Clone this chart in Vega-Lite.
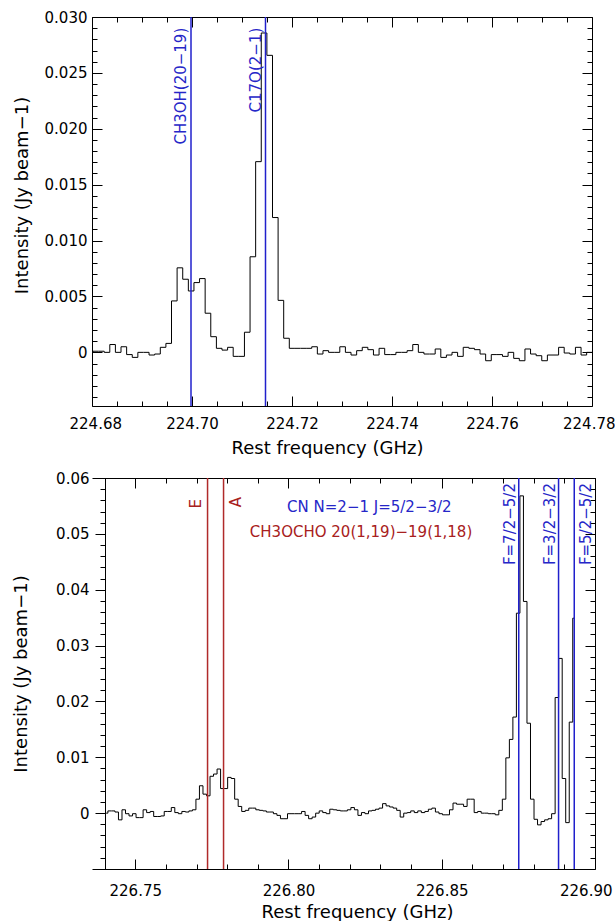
{
  "$schema": "https://vega.github.io/schema/vega-lite/v6.json",
  "padding": {"left": 12, "top": 10, "right": 0, "bottom": 0},
  "columns": 1,
  "align": "none",
  "spacing": 14,
  "config": {
    "view": {"stroke": null},
    "font": "DejaVu Sans",
    "axis": {"grid": false, "domainColor": "black", "tickColor": "black", "labelColor": "black", "titleColor": "black", "labelFont": "DejaVu Sans", "titleFont": "DejaVu Sans", "labelFontSize": 15, "titleFontSize": 18, "titleFontWeight": "normal", "domainWidth": 1, "tickWidth": 1, "labelOverlap": false, "labelFlush": false}
  },
  "datasets": {
    "spec1": [
      {"f":224.67963,"v":0},{"f":224.68075,"v":0.0001},{"f":224.68188,"v":0.0001},{"f":224.683,"v":0},{"f":224.68412,"v":0.0007},{"f":224.68524,"v":0},{"f":224.68636,"v":0.0005},{"f":224.68749,"v":-0.0002},{"f":224.68861,"v":-0.00045},{"f":224.68973,"v":0},{"f":224.69085,"v":0},{"f":224.69197,"v":-0.00024},{"f":224.6931,"v":-0.00015},{"f":224.69422,"v":0.00045},{"f":224.69534,"v":0.0008},
      {"f":224.69646,"v":0.0046},{"f":224.69758,"v":0.00756},{"f":224.69871,"v":0.00654},{"f":224.69983,"v":0.00549},{"f":224.70095,"v":0.00624},{"f":224.70207,"v":0.0066},{"f":224.70319,"v":0.0035},{"f":224.70432,"v":0.0014},{"f":224.70544,"v":0.00036},{"f":224.70656,"v":0.0002},{"f":224.70768,"v":0.00045},{"f":224.7088,"v":-0.00036},{"f":224.70993,"v":-0.00036},{"f":224.71105,"v":0.0018},{"f":224.71217,"v":0.00855},{"f":224.71329,"v":0.01706},{"f":224.71441,"v":0.02857},{"f":224.71554,"v":0.02657},{"f":224.71666,"v":0.01206},{"f":224.71778,"v":0.00465},{"f":224.7189,"v":0.00126},
      {"f":224.72002,"v":0.00036},{"f":224.72115,"v":0.00036},{"f":224.72227,"v":0.00036},{"f":224.72339,"v":0.00036},{"f":224.72451,"v":0.0005},{"f":224.72563,"v":-0.00015},{"f":224.72676,"v":0.00015},{"f":224.72788,"v":0},{"f":224.729,"v":0},{"f":224.73012,"v":0.0005},{"f":224.73124,"v":0},{"f":224.73237,"v":-0.00024},{"f":224.73349,"v":0.00015},{"f":224.73461,"v":0.00045},{"f":224.73573,"v":0.00024},{"f":224.73685,"v":-0.00024},{"f":224.73798,"v":0.00036},{"f":224.7391,"v":-0.0002},{"f":224.74022,"v":-0.0002},{"f":224.74134,"v":0},{"f":224.74246,"v":0},{"f":224.74359,"v":0.00015},{"f":224.74471,"v":0.0007},{"f":224.74583,"v":0},{"f":224.74695,"v":-0.00015},{"f":224.74807,"v":-0.00015},{"f":224.7492,"v":0.0003},{"f":224.75032,"v":-0.00045},{"f":224.75144,"v":-0.00024},{"f":224.75256,"v":0},{"f":224.75368,"v":-0.00036},{"f":224.75481,"v":0.00045},{"f":224.75593,"v":0.00036},{"f":224.75705,"v":0.00024},{"f":224.75817,"v":-0.00015},{"f":224.75929,"v":-0.00075},{"f":224.76042,"v":-0.0002},{"f":224.76154,"v":-0.0002},{"f":224.76266,"v":-0.00036},{"f":224.76378,"v":0},{"f":224.7649,"v":-0.00054},{"f":224.76603,"v":-0.00075},{"f":224.76715,"v":0.0003},{"f":224.76827,"v":-0.00015},{"f":224.76939,"v":-0.0003},{"f":224.77051,"v":-0.00075},{"f":224.77164,"v":-0.00024},{"f":224.77276,"v":-0.00024},{"f":224.77388,"v":0.00045},{"f":224.775,"v":-0.00006},{"f":224.77612,"v":-0.00015},{"f":224.77725,"v":0.00045},{"f":224.77837,"v":-0.00024},{"f":224.77949,"v":0},{"f":224.78061,"v":0}
    ],
    "lines1": [
      {"f":224.6998,"label":"CH3OH(20−19)","group":"CH3OH"},
      {"f":224.7147,"label":"C17O(2−1)","group":"C17O"}
    ],
    "spec2": [
      {"f":226.7405,"v":0},{"f":226.74165,"v":0.0004},{"f":226.7428,"v":0.0004},{"f":226.74395,"v":0.0002},{"f":226.7451,"v":-0.0012},{"f":226.74625,"v":0.0006},{"f":226.74739,"v":-0.0001},{"f":226.74854,"v":-0.0005},{"f":226.74969,"v":-0.0001},{"f":226.75084,"v":-0.0008},{"f":226.75199,"v":-0.0008},{"f":226.75314,"v":0.0006},{"f":226.75429,"v":0.0001},{"f":226.75544,"v":0.0003},{"f":226.75659,"v":-0.0006},{"f":226.75774,"v":-0.0006},{"f":226.75888,"v":-0.0005},{"f":226.76003,"v":0.0003},{"f":226.76118,"v":0.0003},{"f":226.76233,"v":0.001},{"f":226.76348,"v":0.0001},{"f":226.76463,"v":-0.0001},{"f":226.76578,"v":0.0003},{"f":226.76693,"v":0.0002},{"f":226.76808,"v":0.0004},{"f":226.76923,"v":0.0006},
      {"f":226.77037,"v":0.0025},{"f":226.77152,"v":0.0049},{"f":226.77267,"v":0.0034},{"f":226.77382,"v":0.0031},{"f":226.77497,"v":0.0066},{"f":226.77612,"v":0.007},{"f":226.77727,"v":0.0079},{"f":226.77842,"v":0.0044},{"f":226.77957,"v":0.0044},{"f":226.78072,"v":0.0064},{"f":226.78186,"v":0.0062},{"f":226.78301,"v":0.0025},{"f":226.78416,"v":0.0012},{"f":226.78531,"v":0.0003},{"f":226.78646,"v":0.0005},{"f":226.78761,"v":0.0009},{"f":226.78876,"v":0.0009},{"f":226.78991,"v":0.0006},{"f":226.79106,"v":0.0005},{"f":226.79221,"v":0.0004},{"f":226.79335,"v":0.0002},{"f":226.7945,"v":0.0002},{"f":226.79565,"v":-0.0001},{"f":226.7968,"v":-0.0004},{"f":226.79795,"v":-0.001},{"f":226.7991,"v":-0.001},
      {"f":226.80025,"v":-0.0001},{"f":226.8014,"v":-0.0001},{"f":226.80255,"v":-0.0001},{"f":226.8037,"v":-0.0001},{"f":226.80484,"v":0.0003},{"f":226.80599,"v":-0.0004},{"f":226.80714,"v":-0.001},{"f":226.80829,"v":-0.0007},{"f":226.80944,"v":0},{"f":226.81059,"v":0.0004},{"f":226.81174,"v":0.0001},{"f":226.81289,"v":-0.0001},{"f":226.81404,"v":0.0007},{"f":226.81519,"v":0.0006},{"f":226.81633,"v":0.0005},{"f":226.81748,"v":0.0004},{"f":226.81863,"v":0.0004},{"f":226.81978,"v":0.0006},{"f":226.82093,"v":0.001},{"f":226.82208,"v":0.0006},{"f":226.82323,"v":-0.0004},{"f":226.82438,"v":0.0001},{"f":226.82553,"v":-0.0001},{"f":226.82668,"v":0.0004},{"f":226.82782,"v":0.0005},{"f":226.82897,"v":0.0007},{"f":226.83012,"v":0.0009},{"f":226.83127,"v":0.0017},{"f":226.83242,"v":0.0013},{"f":226.83357,"v":0.0011},{"f":226.83472,"v":0.0009},{"f":226.83587,"v":0.0005},{"f":226.83702,"v":-0.0007},{"f":226.83817,"v":0},{"f":226.83931,"v":0.0001},{"f":226.84046,"v":0.0004},{"f":226.84161,"v":0.0001},{"f":226.84276,"v":0.0004},{"f":226.84391,"v":0.0001},{"f":226.84506,"v":0.0003},{"f":226.84621,"v":0.0007},{"f":226.84736,"v":0.0009},{"f":226.84851,"v":0.0002},{"f":226.84966,"v":-0.0001},
      {"f":226.8508,"v":-0.0003},{"f":226.85195,"v":-0.0003},{"f":226.8531,"v":0.0006},{"f":226.85425,"v":0.0018},{"f":226.8554,"v":0.0016},{"f":226.85655,"v":0.0016},{"f":226.8577,"v":0.0012},{"f":226.85885,"v":0.0025},{"f":226.86,"v":0.0025},{"f":226.86115,"v":0.0001},{"f":226.86229,"v":0.0003},{"f":226.86344,"v":0},{"f":226.86459,"v":0},{"f":226.86574,"v":-0.0001},{"f":226.86689,"v":-0.0001},{"f":226.86804,"v":-0.0003},{"f":226.86919,"v":0.0005},{"f":226.87034,"v":0.0025},{"f":226.87149,"v":0.0099},{"f":226.87264,"v":0.0132},{"f":226.87378,"v":0.0172},{"f":226.87493,"v":0.0358},{"f":226.87608,"v":0.0568},{"f":226.87723,"v":0.0379},{"f":226.87838,"v":0.0161},{"f":226.87953,"v":0.0025},{"f":226.88068,"v":-0.0011},{"f":226.88183,"v":-0.0021},{"f":226.88298,"v":-0.0015},{"f":226.88413,"v":-0.0012},{"f":226.88527,"v":-0.001},{"f":226.88642,"v":-0.0001},{"f":226.88757,"v":0.0207},{"f":226.88872,"v":0.0277},{"f":226.88987,"v":0.0062},{"f":226.89102,"v":-0.0017},{"f":226.89217,"v":0.0163},{"f":226.89332,"v":0.0349}
    ],
    "lines2": [
      {"f":226.77359,"label":"E","group":"CH3OCHO"},
      {"f":226.77881,"label":"A","group":"CH3OCHO"},
      {"f":226.87512,"label":"F=7/2−5/2","group":"CN"},
      {"f":226.88811,"label":"F=3/2−3/2","group":"CN"},
      {"f":226.89323,"label":"F=5/2−5/2","group":"CN"}
    ],
    "titles2": [
      {"label":"CN N=2−1 J=5/2−3/2","group":"CN"},
      {"label":"CH3OCHO 20(1,19)−19(1,18)","group":"CH3OCHO"}
    ]
  },
  "concat": [
    {
      "width": 500,
      "height": 389,
      "resolve": {"axis": {"x": "independent", "y": "independent"}},
      "layer": [
        {
          "data": {"name": "spec1"},
          "mark": {"type": "line", "interpolate": "step", "color": "black", "strokeWidth": 1, "clip": true},
          "encoding": {
            "x": {"field": "f", "type": "quantitative",
              "scale": {"domain": [224.68, 224.78], "nice": false, "zero": false},
              "axis": {"orient": "bottom", "values": [224.68,224.685,224.69,224.695,224.7,224.705,224.71,224.715,224.72,224.725,224.73,224.735,224.74,224.745,224.75,224.755,224.76,224.765,224.77,224.775,224.78],
                "tickSize": -10,
                "tickDash": {"condition": {"test": "round(datum.value*1000) % 20 != 0", "value": [5, 20]}, "value": []},
                "labelExpr": "round(datum.value*1000) % 20 == 0 ? format(datum.value, '.2f') : ''",
                "labelPadding": 20,
                "labelFlush": true,
                "labelFlushOffset": 23,
                "title": "Rest frequency (GHz)", "titlePadding": 8, "titleX": 235}},
            "y": {"field": "v", "type": "quantitative",
              "scale": {"domain": [-0.0048, 0.03], "nice": false, "zero": false},
              "axis": {"orient": "left", "values": [-0.004,-0.003,-0.002,-0.001,0,0.001,0.002,0.003,0.004,0.005,0.006,0.007,0.008,0.009,0.01,0.011,0.012,0.013,0.014,0.015,0.016,0.017,0.018,0.019,0.02,0.021,0.022,0.023,0.024,0.025,0.026,0.027,0.028,0.029,0.03],
                "tickSize": -10,
                "tickDash": {"condition": {"test": "round(datum.value*1000) % 5 != 0", "value": [5, 20]}, "value": []},
                "labelExpr": "round(datum.value*1000) % 5 != 0 ? '' : (round(datum.value*1000) == 0 ? '0' : format(datum.value, '.3f'))",
                "labelPadding": 15,
                "title": "Intensity (Jy beam−1)", "titlePadding": 13, "titleY": 178}}
          }
        },
        {
          "data": {"name": "lines1"},
          "mark": {"type": "rule", "color": "#2020cc", "strokeWidth": 1.5},
          "encoding": {
            "x": {"field": "f", "type": "quantitative",
              "axis": {"orient": "top", "values": [224.68,224.685,224.69,224.695,224.7,224.705,224.71,224.715,224.72,224.725,224.73,224.735,224.74,224.745,224.75,224.755,224.76,224.765,224.77,224.775,224.78],
                "tickSize": -10,
                "tickDash": {"condition": {"test": "round(datum.value*1000) % 20 != 0", "value": [5, 20]}, "value": []},
                "labels": false, "title": null}},
            "y": {"datum": 0.03, "type": "quantitative",
              "axis": {"orient": "right", "values": [-0.004,-0.003,-0.002,-0.001,0,0.001,0.002,0.003,0.004,0.005,0.006,0.007,0.008,0.009,0.01,0.011,0.012,0.013,0.014,0.015,0.016,0.017,0.018,0.019,0.02,0.021,0.022,0.023,0.024,0.025,0.026,0.027,0.028,0.029,0.03],
                "tickSize": -10,
                "tickDash": {"condition": {"test": "round(datum.value*1000) % 5 != 0", "value": [5, 20]}, "value": []},
                "labels": false, "title": null}},
            "y2": {"datum": -0.0048}
          }
        },
        {
          "data": {"name": "lines1"},
          "mark": {"type": "text", "angle": 270, "align": "right", "baseline": "alphabetic", "dy": -5, "fontSize": 15, "color": "#2626c8"},
          "encoding": {
            "x": {"field": "f", "type": "quantitative", "axis": null},
            "y": {"datum": 0.02904, "type": "quantitative", "axis": null},
            "text": {"field": "label"}
          }
        }
      ]
    },
    {
      "width": 503,
      "height": 391,
      "resolve": {"axis": {"x": "independent", "y": "independent"}},
      "layer": [
        {
          "data": {"name": "spec2"},
          "mark": {"type": "line", "interpolate": "step", "color": "black", "strokeWidth": 1, "clip": true},
          "encoding": {
            "x": {"field": "f", "type": "quantitative",
              "scale": {"domain": [226.73589, 226.9], "nice": false, "zero": false},
              "axis": {"orient": "bottom", "values": [226.75,226.76,226.77,226.78,226.79,226.8,226.81,226.82,226.83,226.84,226.85,226.86,226.87,226.88,226.89,226.9],
                "tickSize": -10,
                "tickDash": {"condition": {"test": "round(datum.value*1000) % 50 != 0", "value": [5, 20]}, "value": []},
                "labelExpr": "round(datum.value*1000) % 50 == 0 ? format(datum.value, '.2f') : ''",
                "labelPadding": 24,
                "labelFlush": true,
                "labelFlushOffset": 17,
                "title": "Rest frequency (GHz)", "titlePadding": 5, "titleX": 265}},
            "y": {"field": "v", "type": "quantitative",
              "scale": {"domain": [-0.01, 0.06], "nice": false, "zero": false},
              "axis": {"orient": "left", "offset": -13, "values": [-0.008,-0.006,-0.004,-0.002,0,0.002,0.004,0.006,0.008,0.01,0.012,0.014,0.016,0.018,0.02,0.022,0.024,0.026,0.028,0.03,0.032,0.034,0.036,0.038,0.04,0.042,0.044,0.046,0.048,0.05,0.052,0.054,0.056,0.058,0.06],
                "tickSize": 10,
                "tickDash": {"condition": {"test": "round(datum.value*1000) % 10 != 0", "value": [5, 20]}, "value": []},
                "labelExpr": "round(datum.value*1000) % 10 != 0 ? '' : (round(datum.value*1000) == 0 ? '0' : format(datum.value, '.2f'))",
                "labelPadding": 6,
                "title": "Intensity (Jy beam−1)", "titlePadding": 25}}
          }
        },
        {
          "data": {"name": "lines2"},
          "mark": {"type": "rule", "strokeWidth": 1.5},
          "encoding": {
            "x": {"field": "f", "type": "quantitative",
              "axis": {"orient": "top", "values": [226.75,226.76,226.77,226.78,226.79,226.8,226.81,226.82,226.83,226.84,226.85,226.86,226.87,226.88,226.89,226.9],
                "tickSize": -10,
                "tickDash": {"condition": {"test": "round(datum.value*1000) % 50 != 0", "value": [5, 20]}, "value": []},
                "labels": false, "title": null}},
            "y": {"datum": 0.06, "type": "quantitative",
              "axis": {"orient": "right", "values": [-0.008,-0.006,-0.004,-0.002,0,0.002,0.004,0.006,0.008,0.01,0.012,0.014,0.016,0.018,0.02,0.022,0.024,0.026,0.028,0.03,0.032,0.034,0.036,0.038,0.04,0.042,0.044,0.046,0.048,0.05,0.052,0.054,0.056,0.058,0.06],
                "tickSize": -10,
                "tickDash": {"condition": {"test": "round(datum.value*1000) % 10 != 0", "value": [5, 20]}, "value": []},
                "labels": false, "title": null}},
            "y2": {"datum": -0.01},
            "color": {"field": "group", "type": "nominal", "scale": {"domain": ["CH3OCHO", "CN"], "range": ["#b02a2a", "#2020cc"]}, "legend": null}
          }
        },
        {
          "data": {"name": "lines2"},
          "transform": [{"filter": "datum.label == 'E'"}],
          "mark": {"type": "text", "angle": 270, "align": "right", "baseline": "alphabetic", "dy": -7, "fontSize": 15, "color": "#a82020"},
          "encoding": {
            "x": {"field": "f", "type": "quantitative", "axis": null},
            "y": {"datum": 0.05624, "type": "quantitative", "axis": null},
            "text": {"field": "label"}
          }
        },
        {
          "data": {"name": "lines2"},
          "transform": [{"filter": "datum.label == 'A'"}],
          "mark": {"type": "text", "angle": 270, "align": "right", "baseline": "alphabetic", "dy": 17, "fontSize": 15, "color": "#a82020"},
          "encoding": {
            "x": {"field": "f", "type": "quantitative", "axis": null},
            "y": {"datum": 0.0566, "type": "quantitative", "axis": null},
            "text": {"field": "label"}
          }
        },
        {
          "data": {"name": "lines2"},
          "transform": [{"filter": "datum.label == 'F=7/2−5/2' || datum.label == 'F=3/2−3/2'"}],
          "mark": {"type": "text", "angle": 270, "align": "right", "baseline": "alphabetic", "dy": -4, "fontSize": 15, "color": "#2626c8"},
          "encoding": {
            "x": {"field": "f", "type": "quantitative", "axis": null},
            "y": {"datum": 0.0591, "type": "quantitative", "axis": null},
            "text": {"field": "label"}
          }
        },
        {
          "data": {"name": "lines2"},
          "transform": [{"filter": "datum.label == 'F=5/2−5/2'"}],
          "mark": {"type": "text", "angle": 270, "align": "right", "baseline": "alphabetic", "dy": 17, "fontSize": 15, "color": "#2626c8"},
          "encoding": {
            "x": {"field": "f", "type": "quantitative", "axis": null},
            "y": {"datum": 0.0591, "type": "quantitative", "axis": null},
            "text": {"field": "label"}
          }
        },
        {
          "data": {"name": "titles2"},
          "transform": [{"filter": "datum.group == 'CN'"}],
          "mark": {"type": "text", "align": "center", "baseline": "middle", "fontSize": 15, "color": "#2626c8"},
          "encoding": {
            "x": {"datum": 226.82638, "type": "quantitative", "axis": null},
            "y": {"datum": 0.0548, "type": "quantitative", "axis": null},
            "text": {"field": "label"}
          }
        },
        {
          "data": {"name": "titles2"},
          "transform": [{"filter": "datum.group == 'CH3OCHO'"}],
          "mark": {"type": "text", "align": "center", "baseline": "middle", "fontSize": 15, "color": "#a82020"},
          "encoding": {
            "x": {"datum": 226.82367, "type": "quantitative", "axis": null},
            "y": {"datum": 0.0504, "type": "quantitative", "axis": null},
            "text": {"field": "label"}
          }
        }
      ]
    }
  ]
}
